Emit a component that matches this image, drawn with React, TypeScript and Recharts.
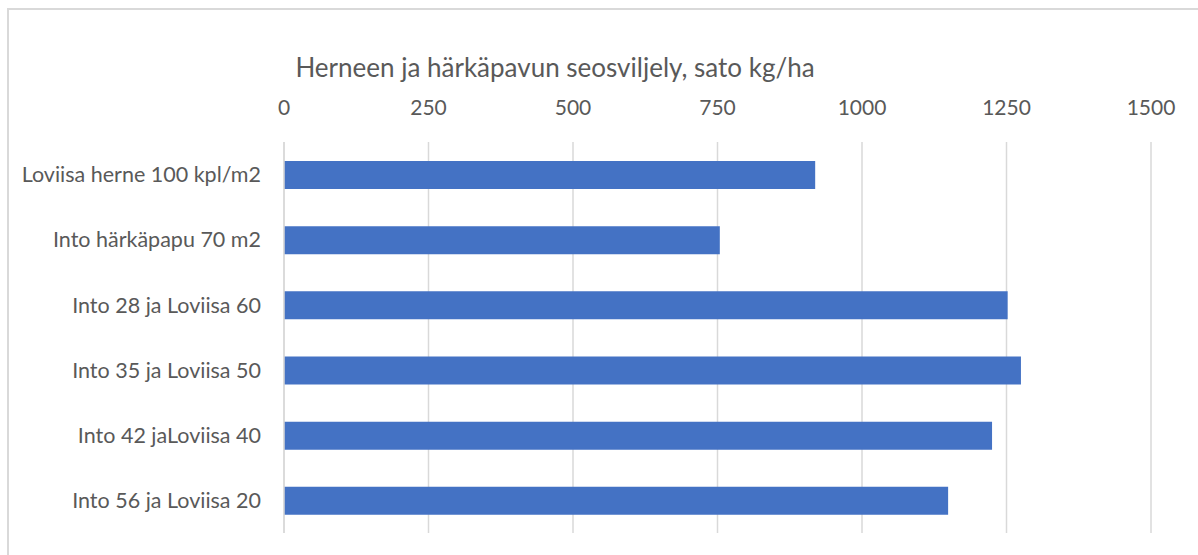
import { BarChart, Bar, XAxis, YAxis, CartesianGrid } from "recharts"

const categories = [
  "Loviisa herne 100 kpl/m2",
  "Into härkäpapu 70 m2",
  "Into 28 ja Loviisa 60",
  "Into 35 ja Loviisa 50",
  "Into 42 jaLoviisa 40",
  "Into 56 ja Loviisa 20",
]
const yields = [919, 754, 1252, 1275, 1225, 1149]
const xTicks = [0, 250, 500, 750, 1000, 1250, 1500]

const title = "Herneen ja härkäpavun seosviljely, sato kg/ha"

const FONT = "Lato, 'Noto Sans', sans-serif"
const TEXT = "#595959"
const GRID = "#d9d9d9"

export default function App() {
  const data = categories.map((name, i) => ({ name, sato: yields[i] }))

  return (
    <div
      style={{
        position: "absolute",
        left: 0,
        top: 0,
        width: 1198,
        height: 555,
        background: "#fff",
        overflow: "hidden",
        fontFamily: FONT,
      }}
    >
      {/* chart frame, cut off at right and bottom */}
      <div
        style={{
          position: "absolute",
          left: 7,
          top: 8,
          width: 1300,
          height: 700,
          borderLeft: `2px solid ${GRID}`,
          borderTop: `2px solid ${GRID}`,
        }}
      />
      <div
        style={{
          position: "absolute",
          left: 555,
          top: 67,
          transform: "translate(-50%, -50%)",
          whiteSpace: "nowrap",
          fontSize: 26,
          color: TEXT,
          lineHeight: 1,
        }}
      >
        {title}
      </div>
      <BarChart
        width={1198}
        height={555}
        data={data}
        layout="vertical"
        margin={{ top: 102, right: 47, bottom: 22, left: 0 }}
        barSize={28}
        style={{ position: "absolute", left: 0, top: 0 }}
      >
        <CartesianGrid horizontal={false} stroke={GRID} strokeWidth={1.5} />
        <XAxis
          type="number"
          orientation="top"
          domain={[0, 1500]}
          ticks={xTicks}
          height={40}
          tickMargin={21}
          tickLine={false}
          axisLine={false}
          tick={{ fill: TEXT, fontSize: 21, fontFamily: FONT }}
        />
        <YAxis
          type="category"
          dataKey="name"
          width={284}
          tickMargin={17}
          tickLine={false}
          axisLine={{ stroke: GRID, strokeWidth: 1.5 }}
          tick={{ fill: TEXT, fontSize: 21.5, fontFamily: FONT }}
        />
        <Bar dataKey="sato" fill="#4472c4" isAnimationActive={false} />
      </BarChart>
    </div>
  )
}
